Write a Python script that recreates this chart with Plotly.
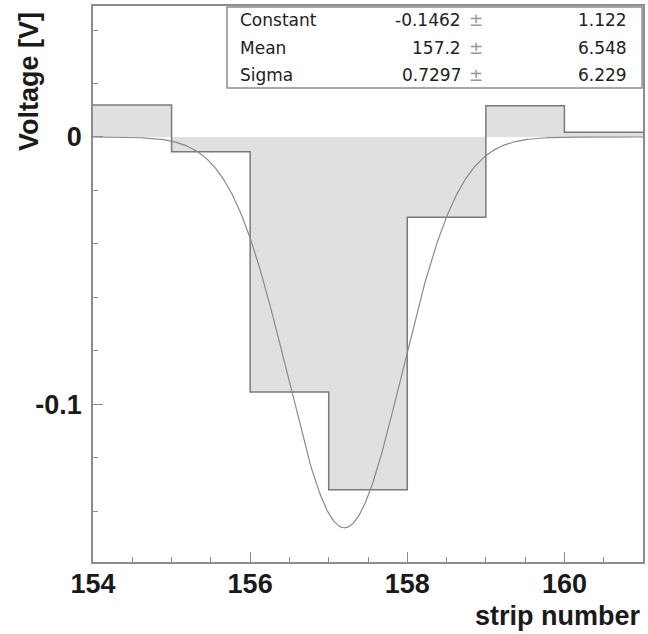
import numpy as np
import plotly.graph_objects as go

# ---- data ----
bin_edges = [154, 155, 156, 157, 158, 159, 160, 161]
bin_values = [0.0120, -0.0055, -0.0954, -0.1320, -0.0300, 0.0117, 0.0018]
fit_names = ["Constant", "Mean", "Sigma"]
fit_values = [-0.1462, 157.2, 0.7297]
fit_errors = ["1.122", "6.548", "6.229"]
fit_value_text = ["-0.1462", "157.2", "0.7297"]
x_tickvals = [154, 156, 158, 160]
y_tickvals = [0.0, -0.1]
y_ticktext = ["0", "-0.1"]

C, M, S = fit_values
xf = np.linspace(154, 161, 600)
yf = C * np.exp(-0.5 * ((xf - M) / S) ** 2)

step_x = bin_edges
step_y = bin_values + [bin_values[-1]]

fig = go.Figure()
fig.add_trace(go.Scatter(
    x=step_x, y=step_y, mode="lines", line=dict(shape="hv", color="#7a7a7a", width=1.5),
    fill="tozeroy", fillcolor="#e0e0e0", hoverinfo="skip", showlegend=False))
fig.add_trace(go.Scatter(
    x=xf, y=yf, mode="lines", line=dict(color="#8a8a8a", width=1.2),
    showlegend=False))

axis_common = dict(showgrid=False, zeroline=False, showline=True, mirror=True,
                   linecolor="#8c8c8c", linewidth=1.5, ticks="inside",
                   tickcolor="#8c8c8c", ticklen=10, tickwidth=1, automargin=False,
                   tickfont=dict(family="Liberation Sans", size=27, color="#1a1a1a", weight="bold"))

fig.update_xaxes(range=[154, 161], tickvals=x_tickvals, ticktext=[str(v) for v in x_tickvals],
                 minor=dict(ticks="inside", dtick=0.5, ticklen=5, tickcolor="#8c8c8c"),
                 ticklabelstandoff=-3, **axis_common)
fig.update_yaxes(range=[-0.159, 0.049], tickvals=y_tickvals, ticktext=y_ticktext,
                 minor=dict(ticks="inside", dtick=0.02, ticklen=5, tickcolor="#8c8c8c"),
                 ticklabelstandoff=4, **axis_common)

# stats box
bx0, bx1 = (227 - 93) / 550, (642 - 93) / 550
by0, by1 = 1 - (88 - 6) / 556, 1 - (7 - 6) / 556
fig.add_shape(type="rect", xref="paper", yref="paper", x0=bx0, x1=bx1, y0=by0, y1=by1,
              fillcolor="white", line=dict(color="#8c8c8c", width=1.5), layer="above")
row_y = [20, 48, 75]
sfont = dict(family="DejaVu Sans", size=17, color="#222222")
for name, vt, err, ry in zip(fit_names, fit_value_text, fit_errors, row_y):
    py = 1 - (ry - 6) / 556
    fig.add_annotation(x=(238 - 93) / 550, y=py, xref="paper", yref="paper", text=name,
                       showarrow=False, xanchor="left", yanchor="middle", font=sfont)
    fig.add_annotation(x=(463 - 93) / 550, y=py, xref="paper", yref="paper", text=vt,
                       showarrow=False, xanchor="right", yanchor="middle", font=sfont)
    fig.add_annotation(x=(476 - 93) / 550, y=py, xref="paper", yref="paper", text="±",
                       showarrow=False, xanchor="center", yanchor="middle",
                       font=dict(family="DejaVu Sans", size=17, color="#999999"))
    fig.add_annotation(x=(629 - 93) / 550, y=py, xref="paper", yref="paper", text=err,
                       showarrow=False, xanchor="right", yanchor="middle", font=sfont)

tfont = dict(family="Liberation Sans", size=27, color="#1a1a1a", weight="bold")
fig.add_annotation(x=1.0, y=(562 - 616) / 556, xref="paper", yref="paper", text="strip number",
                   showarrow=False, xanchor="right", yanchor="middle", font=tfont)
fig.add_annotation(x=(29 - 93) / 550, y=1 - (82 - 6) / 556, xref="paper", yref="paper",
                   text="Voltage [V]", textangle=-90, showarrow=False,
                   xanchor="center", yanchor="middle", font=tfont)

fig.update_layout(width=648, height=634, margin=dict(l=93, r=5, t=6, b=72),
                  paper_bgcolor="white", plot_bgcolor="white")
fig.write_html("out.html", config={"displayModeBar": False},
               post_script="document.body.style.margin='0';document.body.style.overflow='hidden';")
